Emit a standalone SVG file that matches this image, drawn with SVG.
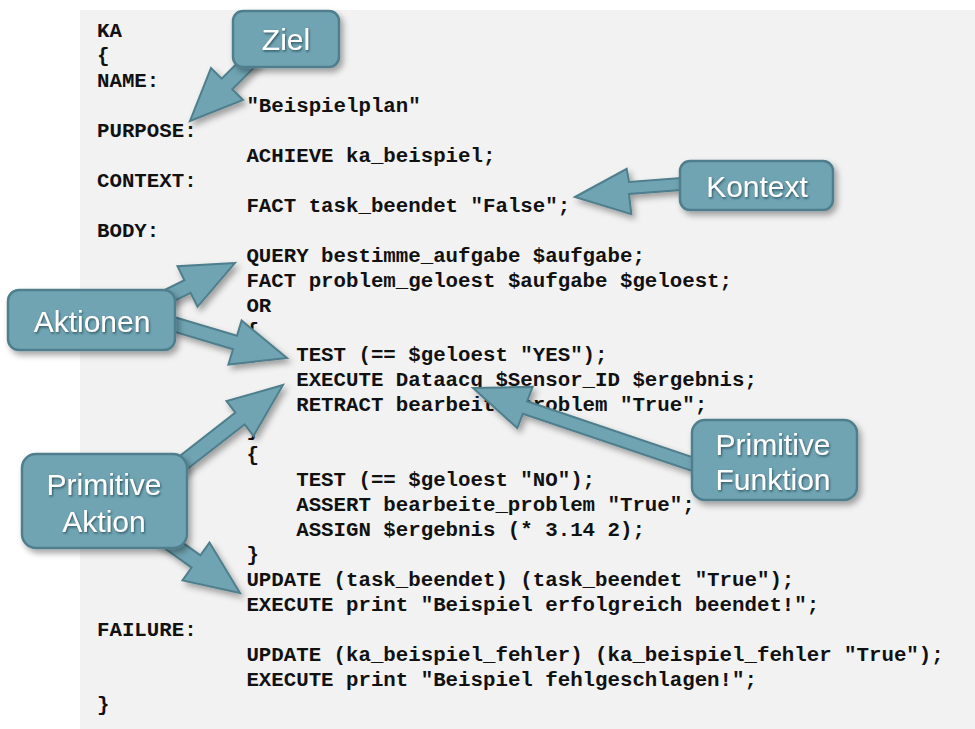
<svg xmlns="http://www.w3.org/2000/svg" width="975" height="729" viewBox="0 0 975 729">
  <defs>
    <filter id="shadow" x="-20%" y="-20%" width="150%" height="150%">
      <feDropShadow dx="3" dy="4" stdDeviation="3" flood-color="#000" flood-opacity="0.35"/>
    </filter>
    <filter id="txtShadow" x="-10%" y="-20%" width="130%" height="150%">
      <feDropShadow dx="1" dy="1.5" stdDeviation="0.8" flood-color="#2c4d58" flood-opacity="0.9"/>
    </filter>
    <style>
      .code { font-family: "Liberation Mono", "Courier New", monospace; font-weight: bold; font-size: 20.75px; fill: #111; }
      .box { fill: #70a4b3; stroke: #4f7e8c; stroke-width: 2.5; }
      .arrow { fill: #70a4b3; stroke: #4f7e8c; stroke-width: 2; stroke-linejoin: miter; }
      .label { font-family: "Liberation Sans", Arial, sans-serif; font-size: 30px; fill: #ffffff; text-anchor: middle; }
    </style>
  </defs>

  <!-- page background and code panel -->
  <rect x="0" y="0" width="975" height="729" fill="#ffffff"/>
  <rect x="80" y="10" width="895" height="719" fill="#f2f2f2"/>

  <!-- source listing: column 0 at x=97, 12.45px per character -->
  <g id="code" class="code">
    <text x="97" y="37">KA</text>
    <text x="97" y="62">{</text>
    <text x="97" y="87">NAME:</text>
    <text x="246.4" y="112">"Beispielplan"</text>
    <text x="97" y="137">PURPOSE:</text>
    <text x="246.4" y="162">ACHIEVE ka_beispiel;</text>
    <text x="97" y="187">CONTEXT:</text>
    <text x="246.4" y="212">FACT task_beendet "False";</text>
    <text x="97" y="237">BODY:</text>
    <text x="246.4" y="262">QUERY bestimme_aufgabe $aufgabe;</text>
    <text x="246.4" y="287">FACT problem_geloest $aufgabe $geloest;</text>
    <text x="246.4" y="312">OR</text>
    <text x="246.4" y="337">{</text>
    <text x="296.2" y="361">TEST (== $geloest "YES");</text>
    <text x="296.2" y="386">EXECUTE Dataacq $Sensor_ID $ergebnis;</text>
    <text x="296.2" y="411">RETRACT bearbeite_problem "True";</text>
    <text x="246.4" y="436">}</text>
    <text x="246.4" y="461">{</text>
    <text x="296.2" y="486">TEST (== $geloest "NO");</text>
    <text x="296.2" y="511">ASSERT bearbeite_problem "True";</text>
    <text x="296.2" y="536">ASSIGN $ergebnis (* 3.14 2);</text>
    <text x="246.4" y="561">}</text>
    <text x="246.4" y="586">UPDATE (task_beendet) (task_beendet "True");</text>
    <text x="246.4" y="611">EXECUTE print "Beispiel erfolgreich beendet!";</text>
    <text x="97" y="636">FAILURE:</text>
    <text x="246.4" y="661">UPDATE (ka_beispiel_fehler) (ka_beispiel_fehler "True");</text>
    <text x="246.4" y="686">EXECUTE print "Beispiel fehlgeschlagen!";</text>
    <text x="97" y="711">}</text>
  </g>

  <!-- block arrows from the callouts to the code -->
  <g id="connectors" class="arrow" filter="url(#shadow)">
    <polygon id="arrow-ziel" points="190,121 243,100 232.3,89.3 267.3,54.3 256.7,43.7 221.7,78.7 211,68"/>
    <polygon id="arrow-kontext" points="575,197 626.7,168.9 629,182 720,175 720,187 629,194 631.3,214.1"/>
    <polygon id="arrow-aktionen-1" points="235,263 177.5,266.2 184.4,280.2 121.7,311.2 127.9,323.8 190.6,292.8 197.5,306.8"/>
    <polygon id="arrow-aktionen-2" points="287,358 241.6,320.5 237,335.8 141.2,307.3 137.2,320.7 233,349.2 228.4,364.5"/>
    <polygon id="arrow-primaktion-1" points="283,385 226.5,401.1 235.4,412.6 156.5,474.1 165.7,485.9 244.6,424.4 253.5,435.9"/>
    <polygon id="arrow-primaktion-2" points="240,593 209.5,542.6 200.4,555.4 135.4,508.9 126.6,521.1 191.6,567.6 182.5,580.4"/>
    <polygon id="arrow-primfunktion" points="473,388 532.7,386.9 527.1,401.3 716.5,465.3 712.3,477.7 522.9,413.7 517.3,428.1"/>
  </g>

  <!-- callouts -->
  <g id="ziel">
    <rect class="box" x="233" y="11" width="106" height="56" rx="10" filter="url(#shadow)"/>
    <text class="label" x="286" y="50" filter="url(#txtShadow)">Ziel</text>
  </g>
  <g id="kontext">
    <rect class="box" x="680" y="161" width="153" height="49" rx="10" filter="url(#shadow)"/>
    <text class="label" x="757" y="197" filter="url(#txtShadow)">Kontext</text>
  </g>
  <g id="aktionen">
    <rect class="box" x="8" y="290" width="167" height="60" rx="11" filter="url(#shadow)"/>
    <text class="label" x="92" y="332" filter="url(#txtShadow)">Aktionen</text>
  </g>
  <g id="primitive-aktion">
    <rect class="box" x="22" y="454" width="165" height="94" rx="14" filter="url(#shadow)"/>
    <text class="label" x="104" y="495" filter="url(#txtShadow)">Primitive</text>
    <text class="label" x="104" y="532" filter="url(#txtShadow)">Aktion</text>
  </g>
  <g id="primitive-funktion">
    <rect class="box" x="692" y="420" width="165" height="80" rx="13" filter="url(#shadow)"/>
    <text class="label" x="773" y="455" filter="url(#txtShadow)">Primitive</text>
    <text class="label" x="773" y="490" filter="url(#txtShadow)">Funktion</text>
  </g>
</svg>
